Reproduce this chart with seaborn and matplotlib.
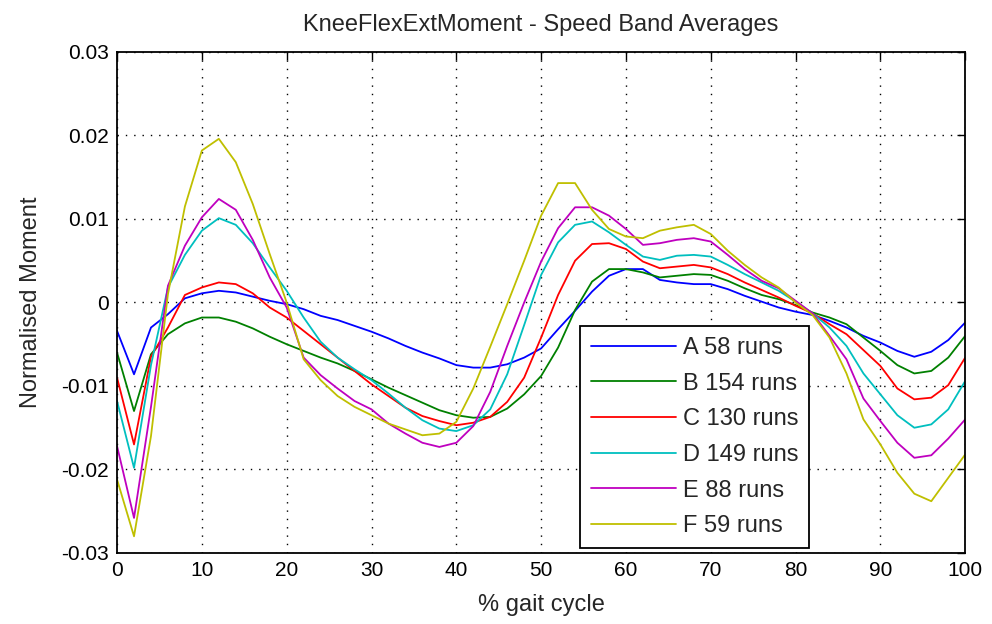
import numpy as np
import pandas as pd
import matplotlib
matplotlib.use("Agg")
import matplotlib.pyplot as plt
import seaborn as sns

# Gait cycle sampled every 2 %
gait_pct = list(range(0, 101, 2))

band_a = [-0.0034, -0.0086, -0.0030, -0.0014, 0.0005, 0.0011, 0.0014, 0.0012, 0.0007, 0.0002,
          -0.0002, -0.0008, -0.0016, -0.0021, -0.0028, -0.0035, -0.0043, -0.0052, -0.0060, -0.0067,
          -0.0075, -0.0078, -0.0078, -0.0074, -0.0066, -0.0055, -0.0032, -0.0010, 0.0013, 0.0032,
          0.0040, 0.0040, 0.0027, 0.0024, 0.0022, 0.0022, 0.0016, 0.0008, 0.0001, -0.0006,
          -0.0011, -0.0015, -0.0022, -0.0030, -0.0040, -0.0048, -0.0058, -0.0065, -0.0059, -0.0045,
          -0.0024]
band_b = [-0.0060, -0.0130, -0.0062, -0.0038, -0.0025, -0.0018, -0.0018, -0.0023, -0.0031, -0.0041,
          -0.0050, -0.0058, -0.0066, -0.0073, -0.0082, -0.0092, -0.0102, -0.0111, -0.0120, -0.0129,
          -0.0135, -0.0138, -0.0137, -0.0127, -0.0110, -0.0088, -0.0054, -0.0009, 0.0025, 0.0040,
          0.0040, 0.0036, 0.0030, 0.0032, 0.0034, 0.0033, 0.0026, 0.0017, 0.0009, 0.0004,
          -0.0003, -0.0012, -0.0018, -0.0026, -0.0042, -0.0058, -0.0075, -0.0085, -0.0082, -0.0066,
          -0.0040]
band_c = [-0.0090, -0.0170, -0.0065, -0.0030, 0.0009, 0.0018, 0.0024, 0.0022, 0.0011, -0.0006,
          -0.0018, -0.0034, -0.0050, -0.0066, -0.0082, -0.0098, -0.0112, -0.0126, -0.0136, -0.0142,
          -0.0147, -0.0144, -0.0137, -0.0119, -0.0090, -0.0042, 0.0009, 0.0050, 0.0070, 0.0071,
          0.0064, 0.0049, 0.0041, 0.0043, 0.0045, 0.0042, 0.0034, 0.0024, 0.0015, 0.0006,
          -0.0004, -0.0013, -0.0026, -0.0038, -0.0057, -0.0076, -0.0103, -0.0116, -0.0114, -0.0099,
          -0.0066]
band_d = [-0.0118, -0.0198, -0.0075, 0.0018, 0.0057, 0.0086, 0.0101, 0.0093, 0.0071, 0.0042,
          0.0014, -0.0018, -0.0047, -0.0066, -0.0080, -0.0093, -0.0109, -0.0126, -0.0141, -0.0151,
          -0.0154, -0.0147, -0.0128, -0.0086, -0.0027, 0.0033, 0.0072, 0.0093, 0.0097, 0.0084,
          0.0069, 0.0055, 0.0051, 0.0056, 0.0057, 0.0055, 0.0045, 0.0034, 0.0024, 0.0014,
          0.0001, -0.0013, -0.0030, -0.0052, -0.0085, -0.0110, -0.0135, -0.0150, -0.0146, -0.0128,
          -0.0094]
band_e = [-0.0172, -0.0258, -0.0125, 0.0020, 0.0068, 0.0102, 0.0124, 0.0111, 0.0075, 0.0030,
          -0.0006, -0.0066, -0.0087, -0.0103, -0.0118, -0.0128, -0.0145, -0.0157, -0.0168, -0.0173,
          -0.0168, -0.0148, -0.0107, -0.0052, 0.0000, 0.0049, 0.0089, 0.0114, 0.0114, 0.0104,
          0.0088, 0.0069, 0.0071, 0.0075, 0.0077, 0.0073, 0.0057, 0.0040, 0.0026, 0.0017,
          0.0002, -0.0013, -0.0040, -0.0068, -0.0115, -0.0142, -0.0168, -0.0186, -0.0183, -0.0163,
          -0.0140]
band_f = [-0.0212, -0.0280, -0.0160, 0.0010, 0.0115, 0.0182, 0.0196, 0.0168, 0.0118, 0.0058,
          0.0000, -0.0068, -0.0093, -0.0112, -0.0125, -0.0135, -0.0145, -0.0152, -0.0159, -0.0157,
          -0.0143, -0.0103, -0.0053, -0.0002, 0.0050, 0.0104, 0.0143, 0.0143, 0.0111, 0.0088,
          0.0079, 0.0077, 0.0086, 0.0090, 0.0093, 0.0082, 0.0062, 0.0045, 0.0030, 0.0018,
          0.0000, -0.0015, -0.0042, -0.0085, -0.0140, -0.0170, -0.0204, -0.0229, -0.0238, -0.0210,
          -0.0182]

band_labels = ["A 58 runs", "B 154 runs", "C 130 runs", "D 149 runs", "E 88 runs", "F 59 runs"]
band_colors = ["#0000ff", "#008000", "#ff0000", "#00bfbf", "#bf00bf", "#bfbf00"]

x_ticks = [0, 10, 20, 30, 40, 50, 60, 70, 80, 90, 100]
y_ticks = [-0.03, -0.02, -0.01, 0, 0.01, 0.02, 0.03]
y_tick_labels = ["-0.03", "-0.02", "-0.01", "0", "0.01", "0.02", "0.03"]

series = [band_a, band_b, band_c, band_d, band_e, band_f]
df = pd.concat(
    [pd.DataFrame({"pct": gait_pct, "moment": vals, "band": lab})
     for vals, lab in zip(series, band_labels)],
    ignore_index=True,
)

sns.set_style("white")
plt.rcParams["font.family"] = ["Liberation Sans", "DejaVu Sans"]
plt.rcParams["axes.unicode_minus"] = False

fig = plt.figure(figsize=(9.92, 6.24), dpi=100)
ax = fig.add_axes([0.118, 0.1138, 0.855, 0.8029])

sns.lineplot(data=df, x="pct", y="moment", hue="band", hue_order=band_labels,
             palette=band_colors, linewidth=1.3, ax=ax, legend=False)

ax.set_xlim(0, 100)
ax.set_ylim(-0.03, 0.03)
ax.set_xticks(x_ticks)
ax.set_xticklabels([str(t) for t in x_ticks])
ax.set_yticks(y_ticks)
ax.set_yticklabels(y_tick_labels)
ax.tick_params(direction="in", length=6, width=1, top=True, right=True,
               labelsize=15, colors="black", pad=6)
ax.grid(True, linestyle=(0, (1, 5)), color="black", linewidth=1.0)
for sp in ax.spines.values():
    sp.set_color("black")
    sp.set_linewidth(1.3)

ax.set_title("KneeFlexExtMoment - Speed Band Averages", fontsize=17, pad=15)
ax.set_xlabel("% gait cycle", fontsize=17, labelpad=10)
ax.set_ylabel("Normalised Moment", fontsize=17, labelpad=14)

handles = [plt.Line2D([], [], color=c, linewidth=1.3) for c in band_colors]
leg = ax.legend(handles, band_labels, loc="lower left", bbox_to_anchor=(0.546, 0.01),
                fontsize=17, frameon=True, fancybox=False, framealpha=1,
                edgecolor="black", handlelength=3.6, handletextpad=0.3,
                labelspacing=0.58, borderpad=0.45, borderaxespad=0)
leg.get_frame().set_linewidth(1.3)

fig.savefig("out.png", dpi=100, facecolor="white")
